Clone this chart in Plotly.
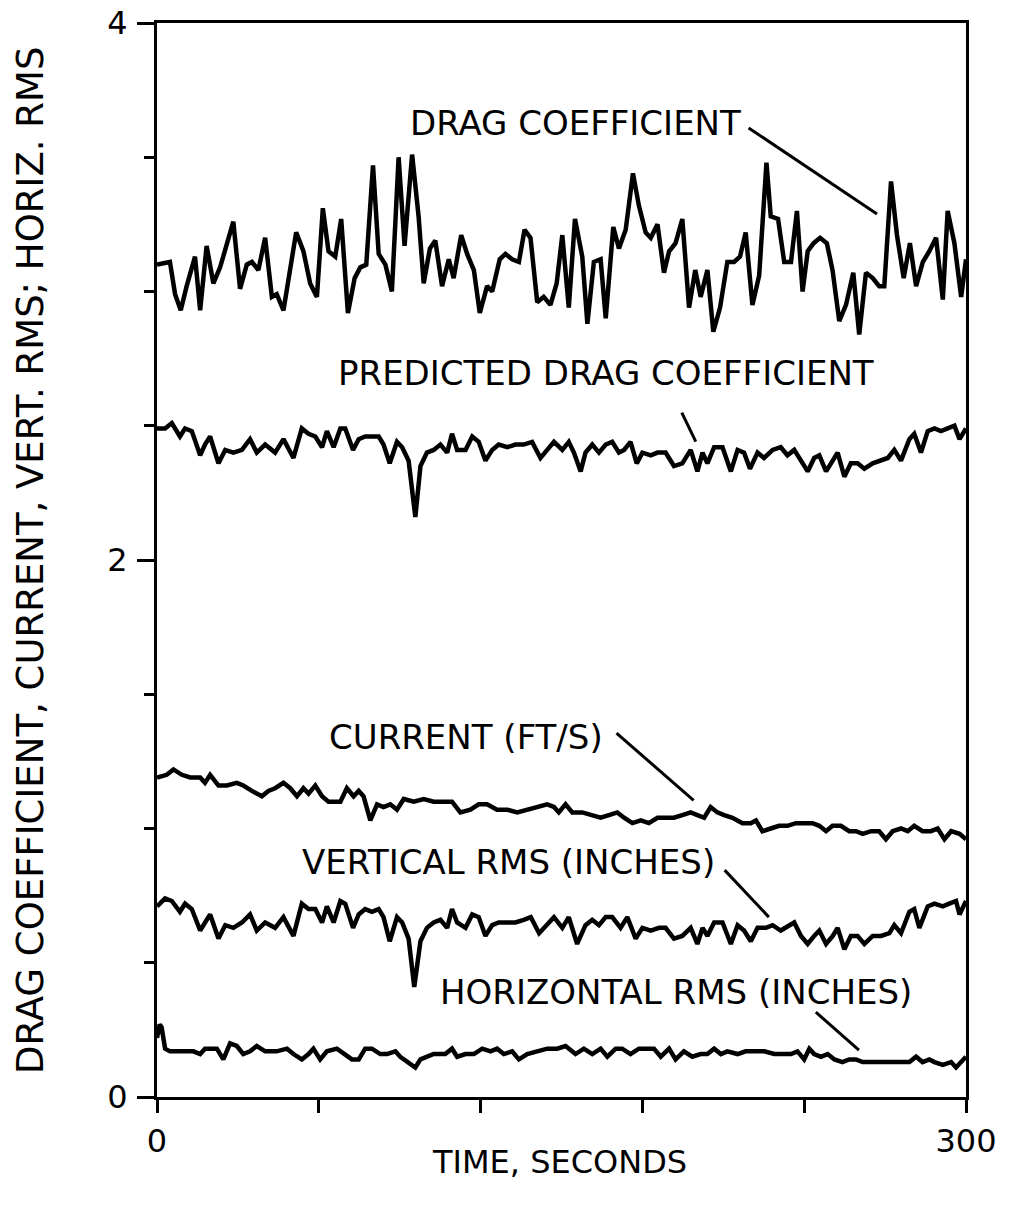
import plotly.graph_objects as go

# Time (s) and drag coefficient record
drag_t = [0, 4.8, 6.7, 8.8, 11.0, 14.1, 16.0, 18.4, 20.9, 23.4, 28.3, 30.8, 33.3, 35.2, 37.6, 40.1,
          42.6, 44.4, 46.9, 49.4, 51.6, 54.3, 56.8, 59.3, 61.5, 63.6, 66.1, 68.3, 70.8, 73.3, 75.4,
          77.6, 80.1, 82.2, 84.7, 87.1, 89.6, 91.8, 94.6, 97.0, 98.9, 101.2, 103.2, 105.7, 108.2,
          110.0, 112.8, 115.0, 117.5, 119.7, 122.4, 124.3, 127.1, 129.2, 131.7, 134.2, 136.3, 138.5,
          141.0, 143.4, 145.9, 148.2, 150.3, 152.7, 155.0, 157.7, 159.6, 162.0, 164.5, 166.4, 169.2,
          171.3, 173.8, 176.5, 178.7, 181.2, 183.1, 185.6, 188.0, 189.9, 192.3, 194.8, 197.3, 199.6,
          201.6, 204.1, 206.3, 208.8, 211.5, 214.0, 216.2, 218.3, 220.8, 223.3, 226.0, 227.6, 230.3,
          232.6, 235.1, 237.3, 239.4, 241.3, 243.5, 245.9, 248.4, 250.5, 253.0, 255.5, 258.2, 260.4,
          262.9, 265.4, 267.8, 269.7, 272.2, 274.4, 276.9, 279.2, 281.5, 284.0, 286.4, 288.9, 291.4,
          293.2, 295.7, 298.2, 300.0]
drag_cd = [3.10, 3.11, 2.99, 2.93, 3.02, 3.13, 2.93, 3.17, 3.03, 3.09, 3.26, 3.01, 3.10, 3.11, 3.08, 3.20,
           2.98, 2.99, 2.93, 3.08, 3.22, 3.15, 3.03, 2.98, 3.31, 3.15, 3.13, 3.27, 2.92, 3.05, 3.09,
           3.10, 3.47, 3.14, 3.10, 3.00, 3.50, 3.17, 3.51, 3.28, 3.03, 3.16, 3.19, 3.02, 3.12,
           3.05, 3.21, 3.14, 3.08, 2.92, 3.02, 3.00, 3.12, 3.14, 3.12, 3.11, 3.23, 3.20,
           2.96, 2.98, 2.95, 3.03, 3.21, 2.94, 3.27, 3.13, 2.88, 3.11, 3.12, 2.90, 3.24,
           3.16, 3.23, 3.44, 3.32, 3.22, 3.20, 3.25, 3.07, 3.15, 3.18, 3.27, 2.94, 3.08,
           2.98, 3.08, 2.85, 2.94, 3.11, 3.11, 3.13, 3.22, 2.95, 3.06, 3.48, 3.28, 3.27,
           3.11, 3.11, 3.30, 3.00, 3.15, 3.18, 3.20, 3.18, 3.08, 2.89, 2.95, 3.07, 2.84,
           3.07, 3.05, 3.02, 3.02, 3.41, 3.21, 3.05, 3.18, 3.02, 3.11, 3.15, 3.20, 2.97,
           3.30, 3.18, 2.98, 3.12]

# Predicted drag coefficient
pred_t = [0, 3.0, 5.5, 8.5, 10.4, 12.9, 16.0, 17.8, 19.7, 22.8, 25.3, 28.3, 31.5, 34.5, 37.0, 40.1,
          43.8, 46.9, 50.6, 53.7, 56.2, 58.7, 61.2, 63.0, 65.5, 68.0, 69.8, 72.7, 74.8, 77.2, 79.7,
          82.2, 84.0, 86.3, 89.0, 90.9, 93.3, 95.8, 97.7, 100.1, 102.6, 105.1, 107.6, 109.4, 111.3,
          114.4, 116.9, 119.3, 121.8, 124.3, 126.7, 129.9, 132.9, 136.0, 139.1, 142.2, 144.7, 147.2,
          150.3, 152.7, 154.6, 157.1, 158.9, 161.4, 163.9, 166.4, 168.8, 171.3, 173.2, 175.6, 177.9,
          180.0, 183.1, 185.6, 188.6, 191.7, 194.8, 197.9, 200.4, 202.3, 204.1, 206.6, 209.7, 212.8,
          215.3, 217.7, 219.9, 222.7, 225.1, 228.3, 231.3, 233.8, 236.3, 238.8, 241.3, 243.7, 245.6,
          248.1, 249.9, 252.4, 254.9, 257.3, 259.8, 262.3, 265.4, 268.5, 271.0, 273.4, 275.9, 279.0,
          280.8, 283.3, 285.8, 288.3, 290.7, 293.2, 295.7, 297.6, 300.0]
pred_cd = [2.49, 2.49, 2.51, 2.46, 2.49, 2.48, 2.39, 2.43, 2.46, 2.36, 2.41, 2.40, 2.41, 2.45, 2.40, 2.43,
           2.40, 2.45, 2.38, 2.49, 2.47, 2.46, 2.42, 2.48, 2.42, 2.49, 2.49, 2.41, 2.45, 2.46, 2.46,
           2.46, 2.43, 2.36, 2.44, 2.42, 2.37, 2.16, 2.35, 2.40, 2.41, 2.43, 2.40, 2.47, 2.41,
           2.41, 2.46, 2.44, 2.37, 2.41, 2.43, 2.42, 2.43, 2.43, 2.44, 2.38, 2.41, 2.44,
           2.41, 2.44, 2.40, 2.33, 2.40, 2.43, 2.40, 2.43, 2.44, 2.40, 2.41, 2.44, 2.36,
           2.40, 2.39, 2.40, 2.40, 2.35, 2.36, 2.41, 2.33, 2.40, 2.36, 2.42, 2.42, 2.33,
           2.41, 2.40, 2.34, 2.40, 2.38, 2.41, 2.42, 2.39, 2.41, 2.37, 2.33, 2.38, 2.39,
           2.33, 2.36, 2.40, 2.31, 2.36, 2.36, 2.34, 2.36, 2.37, 2.38, 2.41, 2.37, 2.45,
           2.47, 2.40, 2.48, 2.49, 2.48, 2.49, 2.50, 2.45, 2.49]

# Current (ft/s)
cur_t = [0, 3.6, 6.1, 9.2, 12.3, 16.0, 17.8, 19.7, 22.8, 25.9, 29.6, 32.0, 35.2, 38.9, 41.3, 43.8,
         46.9, 49.4, 51.9, 54.3, 56.2, 58.7, 61.2, 63.6, 68.0, 70.4, 72.9, 74.8, 76.6, 79.1, 81.6,
         84.0, 86.5, 89.0, 91.5, 95.2, 98.9, 102.6, 106.3, 109.4, 112.5, 116.2, 119.3, 122.4, 126.1,
         129.9, 133.6, 137.3, 141.0, 144.7, 147.2, 149.0, 151.5, 154.0, 157.7, 161.4, 164.5, 167.6,
         170.7, 173.2, 176.3, 179.4, 182.4, 185.6, 188.6, 191.7, 194.8, 197.9, 200.4, 202.9, 205.3,
         207.8, 210.3, 213.4, 217.1, 220.2, 222.1, 224.5, 227.6, 230.7, 233.8, 236.9, 240.0, 243.1,
         245.6, 248.1, 250.5, 253.6, 256.7, 259.2, 261.7, 264.8, 267.8, 270.3, 272.8, 275.9, 278.4,
         280.8, 283.9, 287.0, 289.5, 292.0, 294.5, 297.6, 300.0]
cur_v = [1.19, 1.20, 1.22, 1.20, 1.19, 1.19, 1.17, 1.20, 1.16, 1.16, 1.17, 1.16, 1.14, 1.12, 1.14, 1.15,
         1.17, 1.15, 1.12, 1.15, 1.13, 1.16, 1.12, 1.10, 1.10, 1.15, 1.12, 1.14, 1.12, 1.03, 1.09,
         1.08, 1.09, 1.07, 1.11, 1.10, 1.11, 1.10, 1.10, 1.10, 1.06, 1.07, 1.09, 1.09, 1.07,
         1.07, 1.06, 1.07, 1.08, 1.09, 1.08, 1.06, 1.09, 1.06, 1.06, 1.05, 1.04, 1.05,
         1.06, 1.04, 1.02, 1.03, 1.02, 1.04, 1.04, 1.04, 1.05, 1.06, 1.05, 1.04, 1.08,
         1.06, 1.05, 1.04, 1.02, 1.02, 1.03, 0.99, 1.00, 1.01, 1.01, 1.02, 1.02, 1.02,
         1.01, 0.99, 1.01, 1.01, 0.99, 0.99, 0.98, 0.99, 0.99, 0.96, 0.99, 1.00, 0.99,
         1.01, 0.99, 0.99, 1.00, 0.96, 0.99, 0.98, 0.96]

# Vertical RMS (inches)
vrms_t = [0, 3.0, 5.5, 8.5, 10.4, 12.9, 16.0, 17.8, 19.7, 22.8, 25.3, 28.3, 31.5, 34.5, 37.0, 40.1,
          43.8, 46.9, 50.6, 53.7, 56.2, 58.7, 61.2, 63.0, 65.5, 68.0, 69.8, 72.7, 74.8, 77.2, 79.7,
          82.2, 84.0, 86.3, 89.0, 90.9, 93.3, 95.4, 97.7, 100.1, 102.6, 105.1, 107.6, 109.4, 111.3,
          114.4, 116.9, 119.3, 121.8, 124.3, 126.7, 129.9, 132.9, 136.0, 138.6, 141.7, 144.7, 147.2,
          150.3, 152.7, 155.8, 158.9, 161.4, 163.9, 166.4, 168.8, 171.9, 174.4, 177.5, 180.0, 183.1,
          186.2, 188.6, 191.7, 194.8, 197.9, 200.4, 202.3, 204.1, 206.6, 209.7, 212.8, 215.3, 217.7,
          220.2, 222.7, 225.8, 228.3, 231.3, 233.2, 236.3, 238.8, 241.3, 243.7, 245.6, 248.1, 250.6,
          252.4, 254.9, 257.3, 259.8, 262.3, 265.4, 268.5, 271.6, 273.4, 275.9, 279.0, 280.8, 282.7,
          285.8, 288.3, 291.4, 293.8, 296.3, 297.6, 300.0]
vrms_v = [0.71, 0.74, 0.73, 0.69, 0.72, 0.70, 0.62, 0.65, 0.68, 0.59, 0.64, 0.63, 0.65, 0.68, 0.62, 0.65,
          0.63, 0.67, 0.60, 0.72, 0.70, 0.70, 0.65, 0.71, 0.65, 0.73, 0.72, 0.63, 0.68, 0.70, 0.69,
          0.70, 0.67, 0.58, 0.67, 0.65, 0.59, 0.41, 0.58, 0.63, 0.65, 0.66, 0.63, 0.70, 0.65,
          0.63, 0.68, 0.67, 0.60, 0.64, 0.65, 0.65, 0.65, 0.66, 0.67, 0.61, 0.64, 0.67,
          0.63, 0.67, 0.57, 0.64, 0.66, 0.64, 0.67, 0.67, 0.63, 0.67, 0.59, 0.63, 0.62,
          0.63, 0.63, 0.59, 0.60, 0.63, 0.57, 0.63, 0.60, 0.65, 0.65, 0.57, 0.64, 0.62,
          0.58, 0.63, 0.63, 0.64, 0.62, 0.63, 0.65, 0.60, 0.57, 0.60, 0.62, 0.57, 0.60,
          0.63, 0.55, 0.60, 0.60, 0.57, 0.60, 0.60, 0.61, 0.64, 0.61, 0.69, 0.70, 0.63,
          0.71, 0.72, 0.71, 0.72, 0.73, 0.68, 0.73]

# Horizontal RMS (inches)
hrms_t = [0, 1.0, 1.7, 3.0, 4.8, 8.5, 13.5, 16.0, 17.8, 22.2, 24.6, 27.1, 29.6, 32.0, 34.5, 37.0,
          40.1, 44.4, 48.2, 50.6, 53.7, 56.2, 58.0, 60.5, 63.0, 66.7, 69.2, 72.3, 74.8, 77.2, 79.7,
          82.8, 85.3, 88.4, 90.2, 92.7, 95.8, 97.7, 100.1, 102.6, 105.1, 106.9, 109.4, 111.3, 114.4,
          117.5, 120.6, 123.7, 126.1, 128.6, 131.7, 134.2, 137.3, 141.0, 144.7, 148.4, 151.5, 155.2,
          158.3, 161.4, 164.5, 167.0, 170.1, 172.5, 175.6, 178.7, 181.8, 184.3, 186.8, 189.9, 192.3,
          195.4, 198.5, 201.6, 204.1, 206.6, 209.1, 211.5, 215.3, 218.3, 221.4, 225.2, 228.9, 232.6,
          235.1, 237.5, 240.0, 241.9, 243.7, 246.2, 248.7, 251.2, 254.2, 256.7, 259.2, 261.7, 264.8,
          267.9, 271.6, 275.3, 279.0, 281.5, 283.9, 286.4, 288.3, 291.4, 294.5, 296.3, 298.8, 300.0]
hrms_v = [0.22, 0.27, 0.26, 0.18, 0.17, 0.17, 0.17, 0.16, 0.18, 0.18, 0.14, 0.20, 0.19, 0.16, 0.17, 0.19,
          0.17, 0.17, 0.18, 0.16, 0.14, 0.16, 0.18, 0.14, 0.17, 0.18, 0.16, 0.14, 0.14, 0.18, 0.18,
          0.16, 0.16, 0.17, 0.15, 0.13, 0.11, 0.14, 0.15, 0.16, 0.16, 0.16, 0.18, 0.15, 0.16,
          0.16, 0.18, 0.17, 0.18, 0.16, 0.17, 0.14, 0.16, 0.17, 0.18, 0.18, 0.19, 0.16,
          0.18, 0.16, 0.18, 0.15, 0.18, 0.18, 0.16, 0.18, 0.18, 0.18, 0.15, 0.18, 0.14,
          0.17, 0.15, 0.16, 0.16, 0.18, 0.16, 0.17, 0.16, 0.17, 0.17, 0.17, 0.16, 0.16,
          0.16, 0.17, 0.14, 0.18, 0.16, 0.15, 0.16, 0.14, 0.13, 0.14, 0.14, 0.13, 0.13,
          0.13, 0.13, 0.13, 0.13, 0.15, 0.13, 0.14, 0.13, 0.12, 0.13, 0.11, 0.14, 0.15]

FONT = "DejaVu Sans"
INK = "black"

fig = go.Figure()
for t, v in [(drag_t, drag_cd), (pred_t, pred_cd), (cur_t, cur_v), (vrms_t, vrms_v), (hrms_t, hrms_v)]:
    fig.add_trace(go.Scatter(x=t, y=v, mode="lines",
                             line=dict(color=INK, width=4.5), showlegend=False))

# Curve labels with leader lines (text, x, y, leader start, leader end)
labels = [
    ("DRAG COEFFICIENT", 155.2, 3.628, (219.4, 3.609), (267.0, 3.289)),
    ("PREDICTED DRAG COEFFICIENT", 166.5, 2.698, (194.6, 2.549), (199.8, 2.441)),
    ("CURRENT (FT/S)", 114.7, 1.340, (170.4, 1.355), (199.0, 1.105)),
    ("VERTICAL RMS (INCHES)", 130.5, 0.874, (210.5, 0.845), (226.9, 0.670)),
    ("HORIZONTAL RMS (INCHES)", 192.3, 0.391, (244.3, 0.316), (260.3, 0.175)),
]
for text, x, y, p0, p1 in labels:
    fig.add_annotation(x=x, y=y, text=text, showarrow=False,
                       font=dict(family=FONT, size=34, color=INK),
                       xanchor="center", yanchor="middle")
    fig.add_shape(type="line", x0=p0[0], y0=p0[1], x1=p1[0], y1=p1[1],
                  line=dict(color=INK, width=3))

# Axis titles
fig.add_annotation(xref="paper", yref="paper", x=0.498, y=-0.0605,
                   text="TIME, SECONDS", showarrow=False,
                   font=dict(family=FONT, size=32, color=INK),
                   xanchor="center", yanchor="middle")
fig.add_annotation(xref="paper", yref="paper", x=-0.157, y=0.5,
                   text="DRAG COEFFICIENT, CURRENT, VERT. RMS; HORIZ. RMS",
                   textangle=-90, showarrow=False,
                   font=dict(family=FONT, size=37, color=INK),
                   xanchor="center", yanchor="middle")

fig.update_xaxes(range=[0, 300], tickvals=[0, 300], ticktext=["0", "300"],
                 ticks="outside", ticklen=13, tickwidth=3, tickcolor=INK,
                 minor=dict(tickvals=[60, 120, 180, 240], ticks="outside",
                            ticklen=13, tickwidth=3, tickcolor=INK),
                 showline=True, linewidth=3, linecolor=INK, mirror=True,
                 showgrid=False, zeroline=False, ticklabelstandoff=1,
                 automargin=False,
                 tickfont=dict(family=FONT, size=32, color=INK))
fig.update_yaxes(range=[0, 4], tickvals=[0, 2, 4], ticktext=["0", "2", "4"],
                 ticks="outside", ticklen=17, tickwidth=3, tickcolor=INK,
                 minor=dict(dtick=0.5, tick0=0, ticks="outside",
                            ticklen=10, tickwidth=3, tickcolor=INK),
                 showline=True, linewidth=3, linecolor=INK, mirror=True,
                 showgrid=False, zeroline=False, ticklabelstandoff=3,
                 automargin=False,
                 tickfont=dict(family=FONT, size=32, color=INK))

fig.update_layout(width=1009, height=1210,
                  margin=dict(l=157, r=43, t=23, b=113, autoexpand=False),
                  paper_bgcolor="white", plot_bgcolor="white")

fig.write_html("out.html")
